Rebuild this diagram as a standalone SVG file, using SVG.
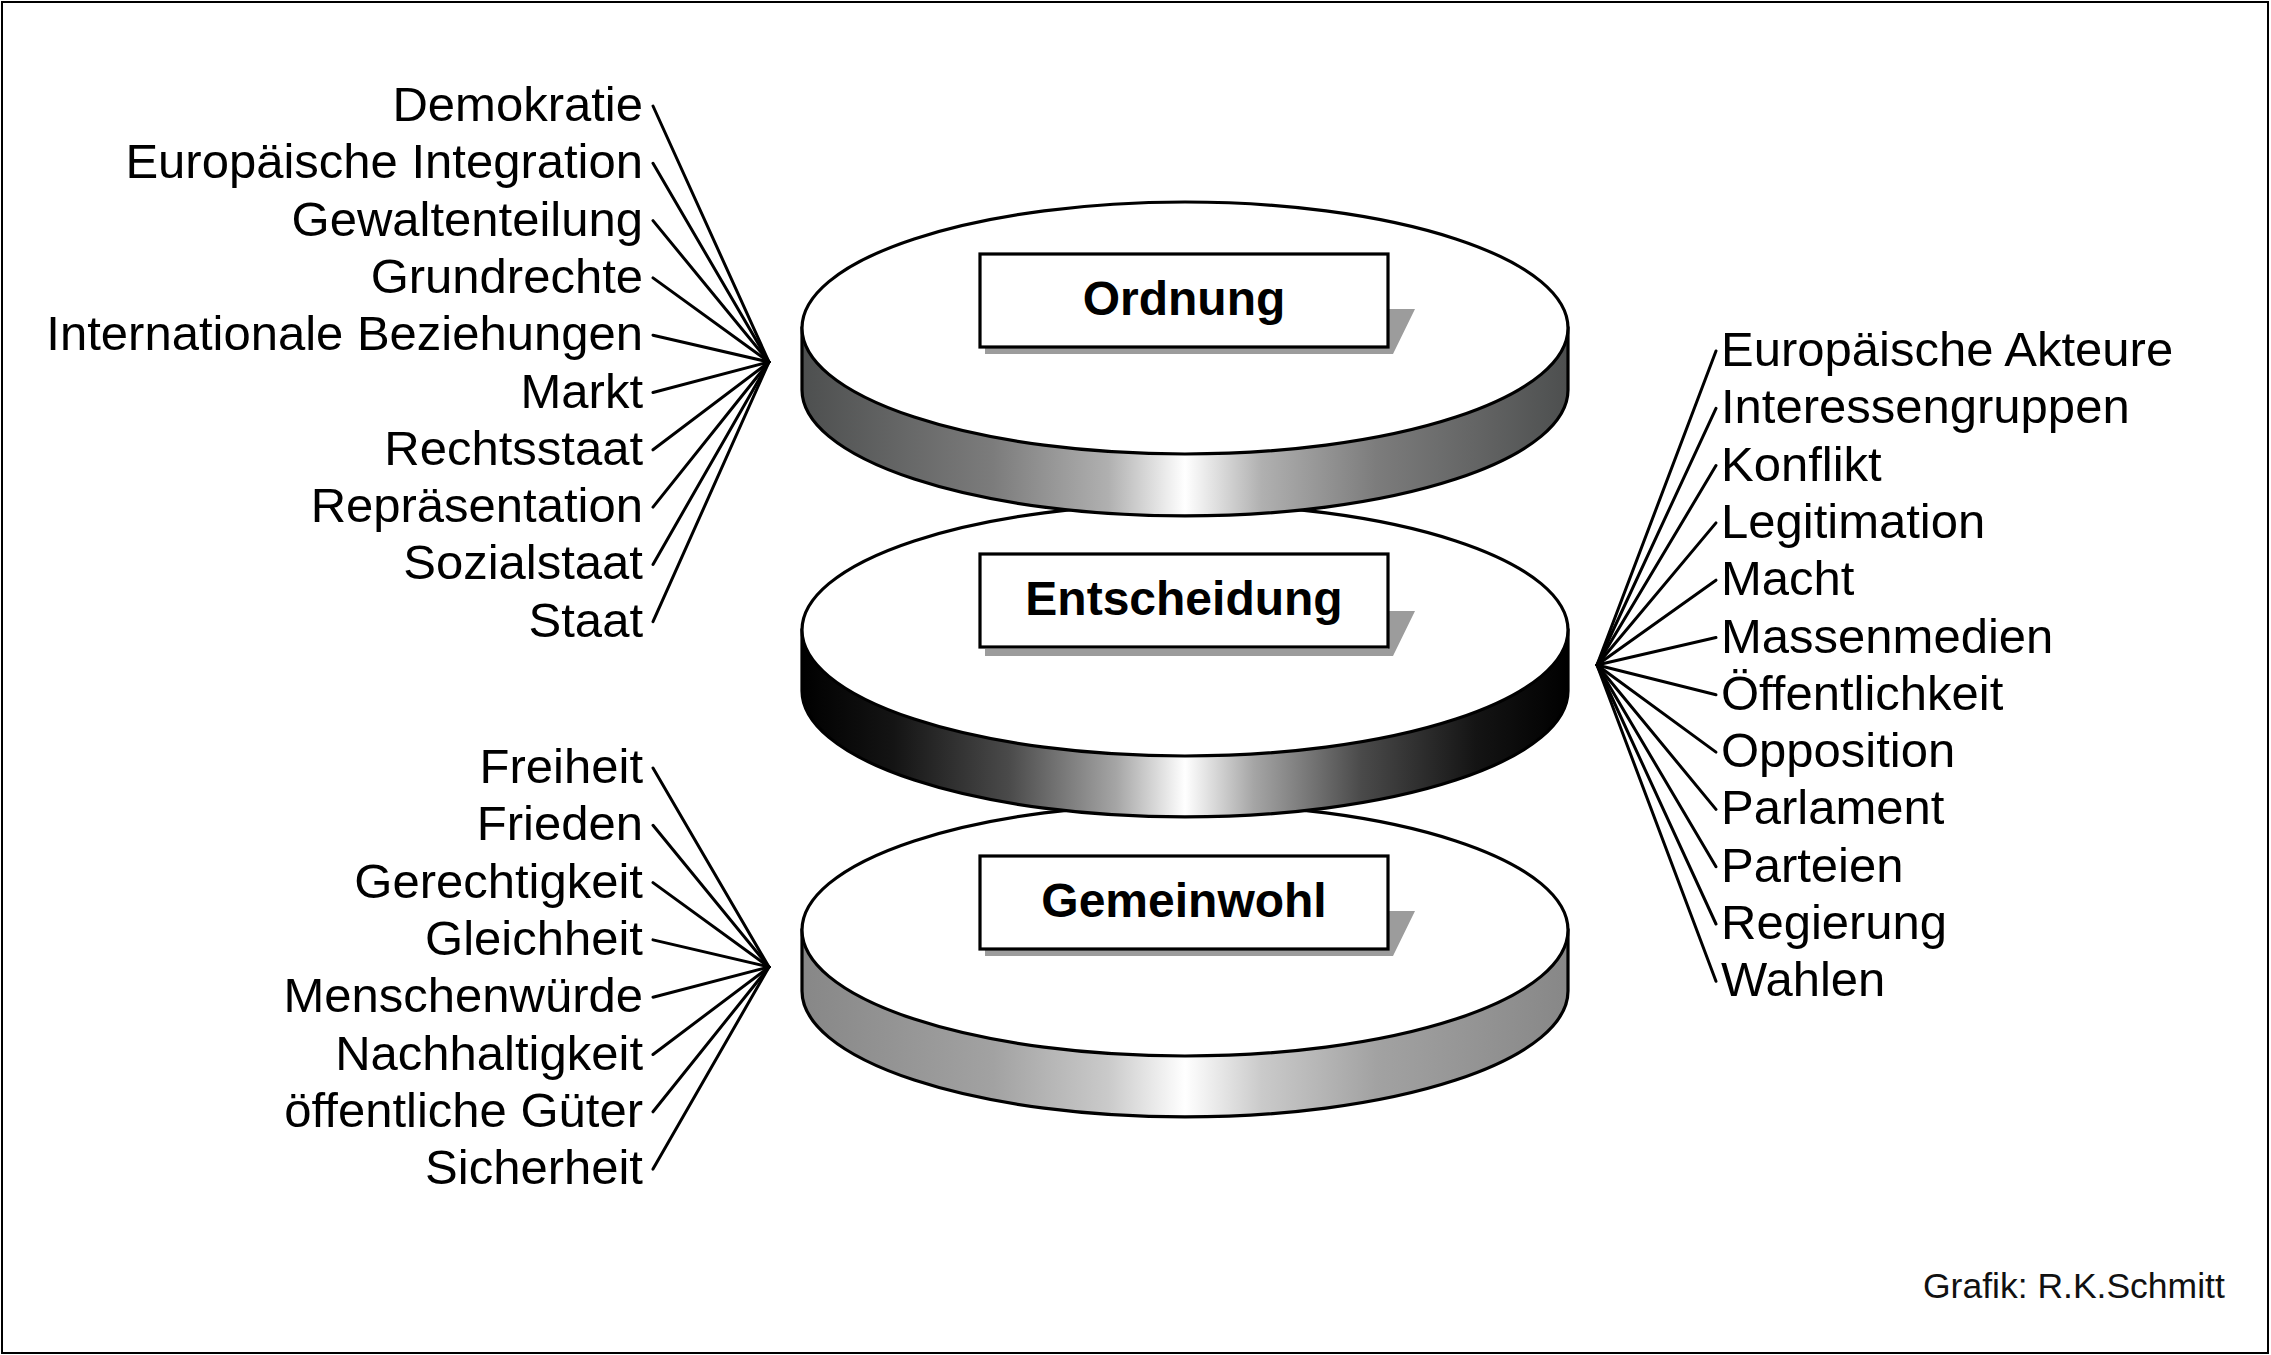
<svg xmlns="http://www.w3.org/2000/svg" width="2271" height="1355" viewBox="0 0 2271 1355">
<style>
.lbl{font-family:"Liberation Sans",Arial,sans-serif;font-size:49px;fill:#000}
.l{text-anchor:end}
.title{font-family:"Liberation Sans",Arial,sans-serif;font-size:48px;font-weight:bold;text-anchor:middle;fill:#000}
.top{fill:#fff;stroke:#000;stroke-width:3.2}
.side{stroke:#000;stroke-width:3.2}
.box{fill:#fff;stroke:#000;stroke-width:3.2}
.shadow{fill:#9c9c9c}
.fan line{stroke:#000;stroke-width:3;stroke-linecap:round}
.credit{font-family:"Liberation Sans",Arial,sans-serif;font-size:35.5px;fill:#111}
</style>
<defs>
<linearGradient id="gTop" x1="0" y1="0" x2="1" y2="0">
<stop offset="0" stop-color="#4d4f4f"/><stop offset="0.25" stop-color="#7c7c7c"/><stop offset="0.4" stop-color="#b0b0b0"/><stop offset="0.5" stop-color="#ffffff"/><stop offset="0.6" stop-color="#b0b0b0"/><stop offset="0.75" stop-color="#7c7c7c"/><stop offset="1" stop-color="#4d4f4f"/>
</linearGradient>
<linearGradient id="gMid" x1="0" y1="0" x2="1" y2="0">
<stop offset="0" stop-color="#000"/><stop offset="0.12" stop-color="#141414"/><stop offset="0.27" stop-color="#4a4a4a"/><stop offset="0.41" stop-color="#a5a5a5"/><stop offset="0.5" stop-color="#ffffff"/><stop offset="0.59" stop-color="#a5a5a5"/><stop offset="0.73" stop-color="#4a4a4a"/><stop offset="0.88" stop-color="#141414"/><stop offset="1" stop-color="#000"/>
</linearGradient>
<linearGradient id="gBot" x1="0" y1="0" x2="1" y2="0">
<stop offset="0" stop-color="#878787"/><stop offset="0.25" stop-color="#a2a2a2"/><stop offset="0.4" stop-color="#cacaca"/><stop offset="0.5" stop-color="#ffffff"/><stop offset="0.6" stop-color="#cacaca"/><stop offset="0.75" stop-color="#a2a2a2"/><stop offset="1" stop-color="#878787"/>
</linearGradient>
</defs>
<rect x="2" y="2" width="2266" height="1351" fill="#fff" stroke="#000" stroke-width="2"/>

<g id="disc-gemeinwohl">
<path class="side" fill="url(#gBot)" d="M802,930 L802,991 A383,126 0 0 0 1568,991 L1568,930 Z"/>
<ellipse class="top" cx="1185" cy="930" rx="383" ry="126"/>
<polygon class="shadow" points="1388,911 1415,911 1393,956 985,956 985,949 1388,949"/>
<rect class="box" x="980" y="856" width="408" height="93"/>
<text class="title" x="1184" y="917">Gemeinwohl</text>
</g>

<g id="disc-entscheidung">
<path class="side" fill="url(#gMid)" d="M802,630 L802,691 A383,126 0 0 0 1568,691 L1568,630 Z"/>
<ellipse class="top" cx="1185" cy="630" rx="383" ry="126"/>
<polygon class="shadow" points="1388,611 1415,611 1393,656 985,656 985,649 1388,649"/>
<rect class="box" x="980" y="554" width="408" height="93"/>
<text class="title" x="1184" y="615">Entscheidung</text>
</g>

<g id="disc-ordnung">
<path class="side" fill="url(#gTop)" d="M802,328 L802,390 A383,126 0 0 0 1568,390 L1568,328 Z"/>
<ellipse class="top" cx="1185" cy="328" rx="383" ry="126"/>
<polygon class="shadow" points="1388,309 1415,309 1393,354 985,354 985,347 1388,347"/>
<rect class="box" x="980" y="254" width="408" height="93"/>
<text class="title" x="1184" y="315">Ordnung</text>
</g>

<g id="connectors" class="fan">
<line x1="653" y1="106" x2="769" y2="362"/>
<line x1="653" y1="163.3" x2="769" y2="362"/>
<line x1="653" y1="220.6" x2="769" y2="362"/>
<line x1="653" y1="277.9" x2="769" y2="362"/>
<line x1="653" y1="335.2" x2="769" y2="362"/>
<line x1="653" y1="392.5" x2="769" y2="362"/>
<line x1="653" y1="449.8" x2="769" y2="362"/>
<line x1="653" y1="507.1" x2="769" y2="362"/>
<line x1="653" y1="564.4" x2="769" y2="362"/>
<line x1="653" y1="621.7" x2="769" y2="362"/>

<line x1="653" y1="768" x2="769" y2="967"/>
<line x1="653" y1="825.3" x2="769" y2="967"/>
<line x1="653" y1="882.6" x2="769" y2="967"/>
<line x1="653" y1="939.9" x2="769" y2="967"/>
<line x1="653" y1="997.2" x2="769" y2="967"/>
<line x1="653" y1="1054.5" x2="769" y2="967"/>
<line x1="653" y1="1111.8" x2="769" y2="967"/>
<line x1="653" y1="1169.1" x2="769" y2="967"/>

<line x1="1716" y1="351" x2="1597" y2="665"/>
<line x1="1716" y1="408.3" x2="1597" y2="665"/>
<line x1="1716" y1="465.6" x2="1597" y2="665"/>
<line x1="1716" y1="522.9" x2="1597" y2="665"/>
<line x1="1716" y1="580.2" x2="1597" y2="665"/>
<line x1="1716" y1="637.5" x2="1597" y2="665"/>
<line x1="1716" y1="694.8" x2="1597" y2="665"/>
<line x1="1716" y1="752.1" x2="1597" y2="665"/>
<line x1="1716" y1="809.4" x2="1597" y2="665"/>
<line x1="1716" y1="866.7" x2="1597" y2="665"/>
<line x1="1716" y1="924" x2="1597" y2="665"/>
<line x1="1716" y1="981.3" x2="1597" y2="665"/>
</g>

<g id="labels-ordnung">
<g id="l-demokratie"><text class="lbl l" x="643" y="121">Demokratie</text></g>
<g id="l-europaeische-integration"><text class="lbl l" x="643" y="178.3">Europäische Integration</text></g>
<g id="l-gewaltenteilung"><text class="lbl l" x="643" y="235.6">Gewaltenteilung</text></g>
<g id="l-grundrechte"><text class="lbl l" x="643" y="292.9">Grundrechte</text></g>
<g id="l-internationale"><text class="lbl l" x="643" y="350.2">Internationale Beziehungen</text></g>
<g id="l-markt"><text class="lbl l" x="643" y="407.5">Markt</text></g>
<g id="l-rechtsstaat"><text class="lbl l" x="643" y="464.8">Rechtsstaat</text></g>
<g id="l-repraesentation"><text class="lbl l" x="643" y="522.1">Repräsentation</text></g>
<g id="l-sozialstaat"><text class="lbl l" x="643" y="579.4">Sozialstaat</text></g>
<g id="l-staat"><text class="lbl l" x="643" y="636.7">Staat</text></g>
</g>

<g id="labels-gemeinwohl">
<g id="l-freiheit"><text class="lbl l" x="643" y="783">Freiheit</text></g>
<g id="l-frieden"><text class="lbl l" x="643" y="840.3">Frieden</text></g>
<g id="l-gerechtigkeit"><text class="lbl l" x="643" y="897.6">Gerechtigkeit</text></g>
<g id="l-gleichheit"><text class="lbl l" x="643" y="954.9">Gleichheit</text></g>
<g id="l-menschenwuerde"><text class="lbl l" x="643" y="1012.2">Menschenwürde</text></g>
<g id="l-nachhaltigkeit"><text class="lbl l" x="643" y="1069.5">Nachhaltigkeit</text></g>
<g id="l-oeffentliche-gueter"><text class="lbl l" x="643" y="1126.8">öffentliche Güter</text></g>
<g id="l-sicherheit"><text class="lbl l" x="643" y="1184.1">Sicherheit</text></g>
</g>

<g id="labels-entscheidung">
<g id="l-europaeische-akteure"><text class="lbl" x="1721" y="366">Europäische Akteure</text></g>
<g id="l-interessengruppen"><text class="lbl" x="1721" y="423.3">Interessengruppen</text></g>
<g id="l-konflikt"><text class="lbl" x="1721" y="480.6">Konflikt</text></g>
<g id="l-legitimation"><text class="lbl" x="1721" y="537.9">Legitimation</text></g>
<g id="l-macht"><text class="lbl" x="1721" y="595.2">Macht</text></g>
<g id="l-massenmedien"><text class="lbl" x="1721" y="652.5">Massenmedien</text></g>
<g id="l-oeffentlichkeit"><text class="lbl" x="1721" y="709.8">Öffentlichkeit</text></g>
<g id="l-opposition"><text class="lbl" x="1721" y="767.1">Opposition</text></g>
<g id="l-parlament"><text class="lbl" x="1721" y="824.4">Parlament</text></g>
<g id="l-parteien"><text class="lbl" x="1721" y="881.7">Parteien</text></g>
<g id="l-regierung"><text class="lbl" x="1721" y="939">Regierung</text></g>
<g id="l-wahlen"><text class="lbl" x="1721" y="996.3">Wahlen</text></g>
</g>

<g id="credit"><text class="credit" x="1923" y="1298">Grafik: R.K.Schmitt</text></g>
</svg>
